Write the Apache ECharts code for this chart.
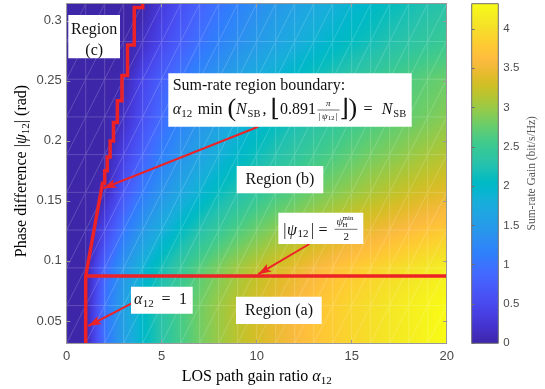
<!DOCTYPE html>
<html><head><meta charset="utf-8">
<script src="https://cdn.jsdelivr.net/npm/echarts@6/dist/echarts.min.js"></script>
<style>html,body{margin:0;padding:0;background:#fff}#c{width:545px;height:389px}</style>
</head><body><div id="c"></div>
<script>
// ---------------- data ----------------
const alphaGrid = [0,1,2,3,4,5,6,7,8,9,10,11,12,13,14,15,16,17,18,19,20];
const psiGrid = [0.0314,0.0628,0.0942,0.1257,0.1571,0.1885,0.2199,0.2513,0.2827,0.3142];
// sum-rate gain (bit/s/Hz), one row per psi value, one column per alpha value
const gainPsi1  = [0,0,1.00,1.58,2.00,2.32,2.58,2.81,3.00,3.17,3.32,3.46,3.58,3.70,3.81,3.91,4.00,4.09,4.17,4.25,4.32];
const gainPsi2  = [0,0,1.00,1.58,2.00,2.32,2.58,2.81,3.00,3.17,3.32,3.46,3.58,3.70,3.81,3.91,4.00,4.09,4.17,4.25,4.32];
const gainPsi3  = [0,0,0.86,1.44,1.86,2.18,2.44,2.67,2.86,3.03,3.18,3.32,3.44,3.56,3.67,3.77,3.86,3.95,4.03,4.11,4.18];
const gainPsi4  = [0,0,0.46,1.04,1.46,1.78,2.04,2.27,2.46,2.63,2.78,2.92,3.04,3.16,3.27,3.37,3.46,3.55,3.63,3.71,3.78];
const gainPsi5  = [0,0,0.09,0.67,1.09,1.41,1.67,1.89,2.09,2.26,2.41,2.55,2.67,2.79,2.89,2.99,3.09,3.17,3.26,3.34,3.41];
const gainPsi6  = [0,0,0,0.39,0.81,1.13,1.39,1.61,1.81,1.98,2.13,2.27,2.39,2.51,2.61,2.71,2.81,2.89,2.98,3.06,3.13];
const gainPsi7  = [0,0,0,0.17,0.58,0.91,1.17,1.39,1.58,1.75,1.91,2.04,2.17,2.29,2.39,2.49,2.58,2.67,2.75,2.83,2.91];
const gainPsi8  = [0,0,0,0.04,0.46,0.78,1.04,1.27,1.46,1.63,1.78,1.92,2.04,2.16,2.27,2.37,2.46,2.55,2.63,2.71,2.78];
const gainPsi9  = [0,0,0,0,0.17,0.49,0.75,0.98,1.17,1.34,1.49,1.63,1.75,1.87,1.98,2.08,2.17,2.26,2.34,2.42,2.49];
const gainPsi10 = [0,0,0,0,0,0.32,0.58,0.81,1.00,1.17,1.32,1.46,1.58,1.70,1.81,1.91,2.00,2.09,2.17,2.25,2.32];
const gainRows = [gainPsi1,gainPsi2,gainPsi3,gainPsi4,gainPsi5,gainPsi6,gainPsi7,gainPsi8,gainPsi9,gainPsi10];

// region boundary staircase: alpha level and upper psi of each step
const stepAlpha = [1.000,1.032,1.067,1.103,1.143,1.185,1.231,1.280,1.333,1.391,1.455,1.524,1.600,1.684,1.778,1.882,2.000,2.133,2.286,2.462,2.667,2.909,3.200,3.556,4.000];
const stepTop   = [0.0875,0.0903,0.0933,0.0965,0.1000,0.1037,0.1077,0.1120,0.1166,0.1217,0.1272,0.1333,0.1400,0.1473,0.1555,0.1647,0.1750,0.1866,0.1999,0.2153,0.2333,0.2545,0.2799,0.3110,0.3142];
const thresholdPsi = 0.0875;
const thresholdAlpha = [1, 20];

// annotation arrows [fromAlpha, fromPsi, toAlpha, toPsi]
const arrowBoundary  = [10.08, 0.2117, 1.93, 0.1605];
const arrowThreshold = [12.77, 0.1141, 10.08, 0.0890];
const arrowAlphaOne  = [3.42, 0.0647, 1.14, 0.0458];

const xTicks = [0,5,10,15,20];
const yTicks = [0.05,0.1,0.15,0.2,0.25,0.3];
const cbTicks = [0,0.5,1,1.5,2,2.5,3,3.5,4];

// ---------------- colormap (parula) ----------------
const parula = [[0.2422,0.1504,0.6603],[0.2504,0.1650,0.7076],[0.2578,0.1818,0.7511],[0.2647,0.1978,0.7952],[0.2706,0.2147,0.8364],[0.2751,0.2342,0.8710],[0.2783,0.2559,0.8991],[0.2803,0.2782,0.9221],[0.2813,0.3006,0.9414],[0.2810,0.3228,0.9579],[0.2795,0.3447,0.9717],[0.2760,0.3667,0.9829],[0.2699,0.3892,0.9906],[0.2602,0.4123,0.9952],[0.2440,0.4358,0.9988],[0.2206,0.4603,0.9973],[0.1963,0.4847,0.9892],[0.1834,0.5074,0.9798],[0.1786,0.5289,0.9682],[0.1764,0.5499,0.9520],[0.1687,0.5703,0.9359],[0.1540,0.5902,0.9218],[0.1460,0.6091,0.9079],[0.1380,0.6276,0.8973],[0.1248,0.6459,0.8883],[0.1113,0.6635,0.8763],[0.0952,0.6798,0.8598],[0.0689,0.6948,0.8394],[0.0297,0.7082,0.8163],[0.0036,0.7203,0.7917],[0.0067,0.7312,0.7660],[0.0433,0.7411,0.7394],[0.0964,0.7500,0.7120],[0.1408,0.7584,0.6842],[0.1717,0.7670,0.6554],[0.1938,0.7758,0.6251],[0.2161,0.7843,0.5923],[0.2470,0.7918,0.5567],[0.2906,0.7973,0.5188],[0.3406,0.8008,0.4789],[0.3909,0.8029,0.4354],[0.4456,0.8024,0.3909],[0.5044,0.7993,0.3480],[0.5616,0.7942,0.3045],[0.6174,0.7876,0.2612],[0.6720,0.7793,0.2227],[0.7242,0.7698,0.1910],[0.7738,0.7598,0.1646],[0.8203,0.7498,0.1535],[0.8634,0.7406,0.1596],[0.9035,0.7330,0.1774],[0.9393,0.7288,0.2100],[0.9728,0.7298,0.2394],[0.9956,0.7434,0.2371],[0.9970,0.7659,0.2199],[0.9952,0.7893,0.2028],[0.9892,0.8136,0.1885],[0.9786,0.8386,0.1766],[0.9676,0.8639,0.1643],[0.9610,0.8890,0.1537],[0.9597,0.9135,0.1423],[0.9628,0.9373,0.1265],[0.9691,0.9606,0.1064],[0.9769,0.9839,0.0805]];
const vMin = 0;
const vMax = Math.max.apply(null, gainRows.map(r => Math.max.apply(null, r)));
function cmapRGB(v) {
  let t = (v - vMin) / (vMax - vMin); t = Math.max(0, Math.min(1, t)) * 63;
  const i = Math.min(62, Math.floor(t)), f = t - i;
  const a = parula[i], b = parula[i + 1];
  return [0, 1, 2].map(k => Math.round(255 * (a[k] + (b[k] - a[k]) * f)));
}

const MESH = 'rgba(255,255,255,0.3)';
const cells = [];
for (let j = 0; j < psiGrid.length - 1; j++)
  for (let i = 0; i < alphaGrid.length - 1; i++)
    cells.push([alphaGrid[i], psiGrid[j], i, j]);

// each cell: two triangles (split along lower-left -> upper-right diagonal), colour interpolated linearly
function renderCell(params, api) {
  const i = api.value(2), j = api.value(3);
  const p00 = api.coord([alphaGrid[i], psiGrid[j]]);
  const p11 = api.coord([alphaGrid[i + 1], psiGrid[j + 1]]);
  const x = p00[0], y = p11[1], w = p11[0] - p00[0], h = p00[1] - p11[1];
  const v00 = gainRows[j][i], v10 = gainRows[j][i + 1], v11 = gainRows[j + 1][i + 1], v01 = gainRows[j + 1][i];
  const W = Math.max(1, Math.round(w)), H = Math.max(1, Math.round(h));
  const cv = document.createElement('canvas'); cv.width = W; cv.height = H;
  const c2 = cv.getContext('2d'); const img = c2.createImageData(W, H);
  for (let py = 0; py < H; py++) {
    const s = 1 - (py + 0.5) / H;
    for (let px = 0; px < W; px++) {
      const u = (px + 0.5) / W;
      const v = (s <= u) ? v00 + u * (v10 - v00) + s * (v11 - v10)
                         : v00 + u * (v11 - v01) + s * (v01 - v00);
      const c = cmapRGB(v); const o = 4 * (py * W + px);
      img.data[o] = c[0]; img.data[o + 1] = c[1]; img.data[o + 2] = c[2]; img.data[o + 3] = 255;
    }
  }
  c2.putImageData(img, 0, 0);
  return {type: 'group', children: [
    {type: 'image', style: {image: cv, x: x - 0.25, y: y - 0.25, width: w + 0.5, height: h + 0.5}},
    {type: 'polyline', shape: {points: [[x, y], [x, y + h], [x + w, y + h]]}, style: {stroke: MESH, lineWidth: 0.6, fill: null}},
    {type: 'line', shape: {x1: x, y1: y + h, x2: x + w, y2: y}, style: {stroke: MESH, lineWidth: 0.6}}
  ]};
}

function renderColorbar(params, api) {
  const p0 = api.coord([0, vMin]), p1 = api.coord([1, vMax]);
  const stops = parula.map((c, k) => ({offset: 1 - k / 63, color: 'rgb(' + Math.round(c[0]*255) + ',' + Math.round(c[1]*255) + ',' + Math.round(c[2]*255) + ')'}));
  return {type: 'rect', shape: {x: p0[0], y: p1[1], width: p1[0] - p0[0], height: p0[1] - p1[1]},
    style: {fill: new echarts.graphic.LinearGradient(0, 0, 0, 1, stops), stroke: '#6e6e6e', lineWidth: 1}};
}

// staircase path
const boundary = [[stepAlpha[0], psiGrid[0]]];
for (let k = 0; k < stepAlpha.length; k++) {
  boundary.push([stepAlpha[k], stepTop[k]]);
  if (k + 1 < stepAlpha.length) boundary.push([stepAlpha[k + 1], stepTop[k]]);
}
const threshold = thresholdAlpha.map(a => [a, thresholdPsi]);

// ---------------- texts ----------------
const SERIF = '"Liberation Serif", "DejaVu Serif", serif';
const SANS = '"Liberation Sans", Arial, sans-serif';
const G_EL = [];
function P(s, x, yc, size, it, align) {
  G_EL.push({type: 'text', x: x, y: yc, z: 101, style: {text: s, fontSize: size, fontFamily: SERIF,
    fontStyle: it ? 'italic' : 'normal', fill: '#111', align: align || 'left', verticalAlign: 'middle'}});
}
function HL(x1, x2, yc) { G_EL.push({type: 'line', z: 101, shape: {x1: x1, y1: yc, x2: x2, y2: yc}, style: {stroke: '#111', lineWidth: 0.6}}); }
function box(x, y, w, h) { G_EL.push({type: 'rect', z: 100, shape: {x: x, y: y, width: w, height: h}, style: {fill: '#fff'}}); }

// Region (c)
box(68.3, 15, 51.7, 43.3); P('Region', 94.2, 30, 16, false, 'center'); P('(c)', 94.2, 50.5, 16, false, 'center');
// boundary formula
box(168.3, 73.3, 243.4, 53.4);
P('Sum-rate region boundary:', 172.7, 85.5, 16);
P('α', 172.7, 110, 16, true); P('12', 181.3, 114, 11);
P('min', 197.7, 110, 16);
P('(', 227.5, 109, 26);
P('N', 236, 110, 16, true); P('SB', 247.6, 114, 10.5);
P(',', 262.5, 110, 16);
P('⌊', 270.5, 110, 24);
P('0.891', 280, 110, 16);
P('π', 328.3, 104, 9, true, 'center'); HL(317.5, 339.5, 110);
P('|', 318.5, 116.5, 9); P('ψ', 322, 116.5, 9, true); P('12', 328, 118, 6.5); P('|', 335.5, 116.5, 9);
P('⌋', 339.5, 110, 24);
P(')', 348.5, 109, 26);
P('=', 363.5, 110, 16);
P('N', 381.7, 110, 16, true); P('SB', 393.3, 114, 10.5);
// Region (b)
box(236.7, 166, 86.6, 27.3); P('Region (b)', 280, 180, 16, false, 'center');
// threshold formula
box(278.3, 212.7, 85, 31.3);
P('|', 283.3, 230.5, 16); P('ψ', 287, 230.5, 16, true); P('12', 297.5, 234.5, 11); P('|', 311, 230.5, 16);
P('=', 318.5, 230.5, 16);
P('ψ', 336.5, 222.5, 10.5, true); P('min', 342.5, 218.5, 7); P('H', 342.5, 225.5, 7);
HL(334.5, 357.5, 229.3);
P('2', 346.2, 236.8, 11, false, 'center');
// Region (a)
box(236, 296.7, 85.7, 27.3); P('Region (a)', 279, 310.3, 16, false, 'center');
// alpha = 1
box(131, 286.7, 61.7, 27);
P('α', 134, 300.2, 16, true); P('12', 142.8, 304.2, 11); P('=', 161.5, 300.2, 16); P('1', 179, 300.2, 16);

// axis titles
const titleRich = {
  n: {fontFamily: SERIF, fontSize: 16, color: '#333', lineHeight: 20},
  i: {fontFamily: SERIF, fontSize: 16, fontStyle: 'italic', color: '#333', lineHeight: 20},
  s: {fontFamily: SERIF, fontSize: 11, color: '#333', lineHeight: 12, verticalAlign: 'bottom'}
};
G_EL.push({type: 'text', x: 256.7, y: 377, z: 101, style: {text: '{n|LOS path gain ratio }{i|α}{s|12}', rich: titleRich, align: 'center', verticalAlign: 'middle'}});
G_EL.push({type: 'text', x: 22, y: 171, rotation: Math.PI / 2, z: 101, style: {text: '{n|Phase difference |}{i|ψ}{s|12}{n|| (rad)}', rich: titleRich, align: 'center', verticalAlign: 'middle'}});
G_EL.push({type: 'text', x: 531.7, y: 173.3, rotation: Math.PI / 2, z: 101, style: {text: 'Sum-rate Gain (bit/s/Hz)', fontFamily: SERIF, fontSize: 11.5, fill: '#555', align: 'center', verticalAlign: 'middle'}});

// ---------------- chart ----------------
const AXC = '#9a9a9a', LBC = '#4a4a4a', RED = '#ec2227';
const ARROW = 'path://M0,0 L4.5,13 L0,10 L-4.5,13 Z';
function arrowLine(a) {
  return [{coord: [a[0], a[1]], symbol: 'none'}, {coord: [a[2], a[3]], symbol: ARROW, symbolSize: [9, 13], symbolOffset: [0, 6.5]}];
}
const psiMin = psiGrid[0], psiMax = psiGrid[psiGrid.length - 1];

const option = {
  animation: false,
  backgroundColor: '#fff',
  grid: [
    {left: 66.7, right: 98.3, top: 3.7, bottom: 45.7},
    {left: 471.7, width: 26.6, top: 3.7, bottom: 45.7}
  ],
  xAxis: [
    {gridIndex: 0, type: 'value', min: 0, max: 20, interval: 5, position: 'bottom', z: 10,
     axisLine: {show: true, onZero: false, lineStyle: {color: AXC}},
     axisTick: {show: true, inside: true, length: 3.5, lineStyle: {color: AXC}},
     axisLabel: {fontFamily: SANS, fontSize: 13, color: LBC, margin: 7},
     splitLine: {show: false}},
    {gridIndex: 0, type: 'value', min: 0, max: 20, interval: 5, position: 'top', z: 10,
     axisLine: {show: true, onZero: false, lineStyle: {color: AXC}},
     axisTick: {show: true, inside: true, length: 3.5, lineStyle: {color: AXC}},
     axisLabel: {show: false}, splitLine: {show: false}},
    {gridIndex: 1, type: 'value', min: 0, max: 1, show: false}
  ],
  yAxis: [
    {gridIndex: 0, type: 'value', min: psiMin, max: psiMax, position: 'left', z: 10,
     axisLine: {show: true, onZero: false, lineStyle: {color: AXC}},
     axisTick: {show: true, inside: true, length: 3.5, customValues: yTicks, lineStyle: {color: AXC}},
     axisLabel: {customValues: yTicks, fontFamily: SANS, fontSize: 13, color: LBC, margin: 5},
     splitLine: {show: false}},
    {gridIndex: 0, type: 'value', min: psiMin, max: psiMax, position: 'right', z: 10,
     axisLine: {show: true, onZero: false, lineStyle: {color: AXC}},
     axisTick: {show: true, inside: true, length: 3.5, customValues: yTicks, lineStyle: {color: AXC}},
     axisLabel: {show: false}, splitLine: {show: false}},
    {gridIndex: 1, type: 'value', min: vMin, max: vMax, position: 'right', z: 10,
     axisLine: {show: false},
     axisTick: {show: true, inside: false, length: 3, customValues: cbTicks, lineStyle: {color: '#6e6e6e'}},
     axisLabel: {customValues: cbTicks, fontFamily: SANS, fontSize: 11.5, color: LBC, margin: 5},
     splitLine: {show: false}}
  ],
  series: [
    {type: 'custom', xAxisIndex: 0, yAxisIndex: 0, data: cells, renderItem: renderCell, clip: true, silent: true, z: 1},
    {type: 'line', xAxisIndex: 0, yAxisIndex: 0, data: boundary, symbol: 'none', z: 5, silent: true,
     lineStyle: {color: RED, width: 3.5, join: 'miter'}},
    {type: 'line', xAxisIndex: 0, yAxisIndex: 0, data: threshold, symbol: 'none', z: 5, silent: true,
     lineStyle: {color: RED, width: 3.5},
     markLine: {silent: true, animation: false, label: {show: false},
       lineStyle: {color: RED, width: 2, type: 'solid'},
       data: [arrowLine(arrowBoundary), arrowLine(arrowThreshold), arrowLine(arrowAlphaOne)]}},
    {type: 'custom', xAxisIndex: 2, yAxisIndex: 2, data: [[0, 0]], renderItem: renderColorbar, silent: true, z: 1}
  ],
  graphic: {elements: G_EL}
};
const chart = echarts.init(document.getElementById('c'));
chart.setOption(option);
</script>
</body></html>
